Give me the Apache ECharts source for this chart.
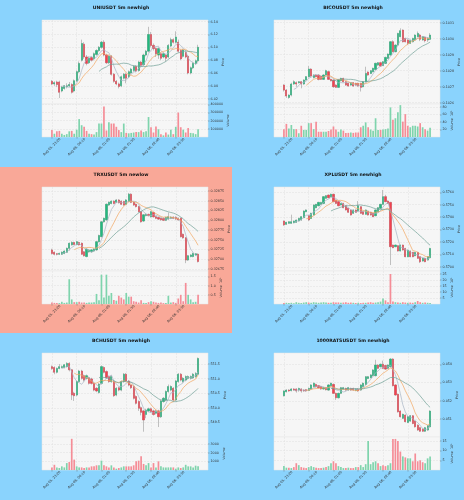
<!DOCTYPE html>
<html><head><meta charset="utf-8">
<script src="https://cdn.jsdelivr.net/npm/echarts@6/dist/echarts.min.js"></script>
<style>html,body{margin:0;padding:0;background:#8ad3fd;}#c{width:464px;height:500px;}</style>
</head><body><div id="c"></div>
<script>
// ---------- shared x tick labels (every 10 candles) ----------
const timeLabels = ['Aug 05, 23:20','Aug 06, 00:10','Aug 06, 01:00','Aug 06, 01:50','Aug 06, 02:40','Aug 06, 03:30'];

// ---------- UNIUSDT ----------
const uniTitle = 'UNIUSDT 5m newhigh';
const uniCandles = [[6.047,6.043,6.041,6.049],[6.043,6.045,6.040,6.047],[6.046,6.042,6.038,6.048],[6.046,6.030,6.021,6.048],[6.032,6.038,6.030,6.040],[6.036,6.040,6.034,6.041],[6.039,6.040,6.036,6.044],[6.040,6.042,6.038,6.046],[6.042,6.030,6.028,6.044],[6.032,6.048,6.030,6.050],
[6.048,6.062,6.046,6.064],[6.062,6.075,6.060,6.078],[6.080,6.106,6.078,6.112],[6.105,6.085,6.082,6.108],[6.085,6.075,6.072,6.088],[6.076,6.083,6.074,6.086],[6.084,6.080,6.078,6.086],[6.082,6.090,6.080,6.092],[6.089,6.095,6.087,6.097],[6.095,6.100,6.093,6.102],
[6.100,6.108,6.098,6.110],[6.108,6.088,6.086,6.111],[6.088,6.076,6.074,6.090],[6.076,6.086,6.074,6.088],[6.086,6.058,6.056,6.088],[6.058,6.047,6.045,6.060],[6.047,6.043,6.041,6.049],[6.043,6.039,6.036,6.045],[6.040,6.054,6.038,6.056],[6.052,6.058,6.050,6.060],
[6.058,6.052,6.044,6.060],[6.054,6.062,6.052,6.064],[6.060,6.066,6.058,6.068],[6.064,6.070,6.062,6.072],[6.070,6.063,6.061,6.072],[6.064,6.077,6.062,6.079],[6.077,6.072,6.070,6.079],[6.073,6.088,6.071,6.090],[6.088,6.094,6.086,6.096],[6.094,6.120,6.092,6.132],
[6.120,6.103,6.100,6.124],[6.103,6.098,6.095,6.106],[6.098,6.090,6.085,6.100],[6.088,6.098,6.082,6.100],[6.090,6.083,6.080,6.092],[6.085,6.090,6.083,6.092],[6.088,6.083,6.078,6.090],[6.085,6.103,6.083,6.105],[6.102,6.112,6.100,6.115],[6.112,6.108,6.106,6.114],
[6.108,6.116,6.106,6.125],[6.108,6.094,6.092,6.112],[6.095,6.082,6.080,6.097],[6.086,6.096,6.084,6.098],[6.092,6.085,6.083,6.094],[6.086,6.060,6.058,6.088],[6.060,6.068,6.058,6.070],[6.068,6.075,6.066,6.077],[6.075,6.079,6.073,6.081],[6.079,6.100,6.077,6.104]];
const uniVolume = [85000,40000,70000,75000,40000,25000,35000,70000,75000,40000,90000,220000,145000,125000,75000,40000,35000,30000,60000,165000,165000,375000,80000,180000,165000,165000,125000,85000,60000,165000,50000,45000,50000,55000,60000,60000,80000,60000,70000,245000,120000,55000,130000,95000,35000,20000,55000,30000,90000,35000,125000,300000,120000,90000,55000,110000,50000,45000,35000,95000];
const uniPriceTicks = [6.02,6.04,6.06,6.08,6.10,6.12,6.14];
const uniPriceLabels = ['6.02','6.04','6.06','6.08','6.10','6.12','6.14'];
const uniVolTicks = [100000,200000,300000,400000];
const uniVolLabels = ['100000','200000','300000','400000'];

// ---------- BICOUSDT ----------
const bicoTitle = 'BICOUSDT 5m newhigh';
const bicoCandles = [[0.102710,0.102679,0.102670,0.102715],[0.102679,0.102642,0.102630,0.102685],[0.102633,0.102648,0.102625,0.102652],[0.102648,0.102717,0.102640,0.102725],[0.102717,0.102731,0.102712,0.102740],[0.102725,0.102717,0.102700,0.102733],[0.102725,0.102731,0.102720,0.102735],[0.102731,0.102717,0.102690,0.102735],[0.102717,0.102742,0.102712,0.102746],[0.102742,0.102763,0.102738,0.102767],
[0.102763,0.102810,0.102758,0.102829],[0.102810,0.102767,0.102760,0.102815],[0.102758,0.102773,0.102752,0.102778],[0.102773,0.102763,0.102758,0.102778],[0.102773,0.102746,0.102740,0.102778],[0.102767,0.102746,0.102742,0.102771],[0.102746,0.102773,0.102742,0.102778],[0.102773,0.102800,0.102769,0.102806],[0.102794,0.102746,0.102742,0.102800],[0.102746,0.102738,0.102733,0.102750],
[0.102742,0.102700,0.102694,0.102746],[0.102710,0.102696,0.102692,0.102715],[0.102696,0.102742,0.102692,0.102746],[0.102738,0.102752,0.102733,0.102756],[0.102752,0.102731,0.102727,0.102756],[0.102731,0.102710,0.102706,0.102735],[0.102721,0.102704,0.102700,0.102725],[0.102710,0.102725,0.102706,0.102729],[0.102725,0.102704,0.102700,0.102729],[0.102721,0.102710,0.102706,0.102725],
[0.102721,0.102704,0.102700,0.102725],[0.102721,0.102696,0.102670,0.102725],[0.102700,0.102731,0.102696,0.102735],[0.102731,0.102783,0.102727,0.102825],[0.102792,0.102773,0.102769,0.102796],[0.102783,0.102800,0.102779,0.102804],[0.102794,0.102815,0.102790,0.102819],[0.102808,0.102846,0.102804,0.102850],[0.102835,0.102850,0.102831,0.102854],[0.102850,0.102829,0.102825,0.102856],
[0.102833,0.102856,0.102829,0.102860],[0.102846,0.102883,0.102842,0.102888],[0.102877,0.102904,0.102873,0.102908],[0.102898,0.102981,0.102894,0.102985],[0.102981,0.102919,0.102915,0.102990],[0.102919,0.102960,0.102915,0.102965],[0.102960,0.103033,0.102956,0.103037],[0.103013,0.103050,0.103009,0.103065],[0.103054,0.102981,0.102977,0.103058],[0.103002,0.102981,0.102977,0.103006],
[0.102992,0.102971,0.102960,0.102996],[0.102971,0.102988,0.102967,0.102992],[0.102981,0.103002,0.102977,0.103006],[0.102992,0.103023,0.102988,0.103027],[0.103013,0.103033,0.103009,0.103045],[0.103023,0.102996,0.102985,0.103030],[0.102992,0.103013,0.102988,0.103017],[0.103009,0.102988,0.102977,0.103013],[0.102992,0.103002,0.102980,0.103010],[0.102996,0.103023,0.102992,0.103035]];
const bicoVolume = [21,35,23,32,21,21,10,30,19,19,37,37,21,41,14,14,14,14,16,20,28,20,14,20,17,11,11,12,11,12,12,26,30,39,26,20,17,50,19,19,20,21,23,79,46,50,66,85,41,61,30,26,30,30,28,37,26,21,17,25];
const bicoPriceTicks = [0.1026,0.1027,0.1028,0.1029,0.1030,0.1031];
const bicoPriceLabels = ['0.1026','0.1027','0.1028','0.1029','0.1030','0.1031'];
const bicoVolTicks = [20,40,60,80];
const bicoVolLabels = ['20','40','60','80'];

// ---------- TRXUSDT ----------
const trxTitle = 'TRXUSDT 5m newlow';
const trxCandles = [[0.32724,0.32715,0.32712,0.32727],[0.32718,0.32713,0.32710,0.32720],[0.32714,0.32713,0.32710,0.32716],[0.32713,0.32715,0.32711,0.32717],[0.32713,0.32718,0.32711,0.32720],[0.32715,0.32721,0.32713,0.32723],[0.32718,0.32728,0.32716,0.32730],[0.32728,0.32741,0.32722,0.32743],[0.32737,0.32743,0.32735,0.32746],[0.32743,0.32738,0.32736,0.32745],
[0.32738,0.32745,0.32736,0.32747],[0.32743,0.32737,0.32735,0.32745],[0.32741,0.32713,0.32711,0.32743],[0.32719,0.32709,0.32707,0.32721],[0.32707,0.32726,0.32705,0.32728],[0.32719,0.32724,0.32717,0.32726],[0.32719,0.32724,0.32717,0.32726],[0.32721,0.32726,0.32719,0.32728],[0.32724,0.32745,0.32722,0.32747],[0.32745,0.32761,0.32743,0.32763],
[0.32758,0.32796,0.32756,0.32798],[0.32796,0.32805,0.32794,0.32807],[0.32801,0.32841,0.32799,0.32843],[0.32839,0.32846,0.32837,0.32848],[0.32843,0.32849,0.32841,0.32851],[0.32849,0.32843,0.32841,0.32851],[0.32846,0.32852,0.32844,0.32854],[0.32852,0.32845,0.32843,0.32854],[0.32849,0.32841,0.32839,0.32851],[0.32848,0.32839,0.32837,0.32850],
[0.32841,0.32852,0.32839,0.32854],[0.32848,0.32867,0.32846,0.32870],[0.32867,0.32846,0.32844,0.32869],[0.32846,0.32839,0.32837,0.32848],[0.32841,0.32835,0.32833,0.32843],[0.32835,0.32822,0.32820,0.32837],[0.32822,0.32796,0.32794,0.32824],[0.32798,0.32814,0.32796,0.32816],[0.32812,0.32815,0.32810,0.32817],[0.32815,0.32812,0.32810,0.32817],
[0.32809,0.32822,0.32807,0.32824],[0.32820,0.32809,0.32807,0.32822],[0.32809,0.32805,0.32803,0.32811],[0.32807,0.32803,0.32801,0.32809],[0.32805,0.32801,0.32799,0.32807],[0.32805,0.32800,0.32798,0.32807],[0.32800,0.32807,0.32798,0.32809],[0.32803,0.32809,0.32801,0.32820],[0.32805,0.32808,0.32803,0.32810],[0.32808,0.32805,0.32803,0.32810],
[0.32808,0.32803,0.32801,0.32810],[0.32805,0.32801,0.32799,0.32807],[0.32805,0.32758,0.32756,0.32807],[0.32764,0.32755,0.32753,0.32766],[0.32755,0.32698,0.32690,0.32757],[0.32698,0.32709,0.32696,0.32711],[0.32707,0.32711,0.32705,0.32713],[0.32707,0.32715,0.32705,0.32717],[0.32711,0.32714,0.32709,0.32716],[0.32713,0.32694,0.32692,0.32715]];
const trxVolume = [0.08,0.06,0.05,0.05,0.12,0.06,0.08,1.35,0.25,0.1,0.1,0.12,0.08,0.08,0.06,0.08,0.08,0.1,0.55,0.2,1.6,0.35,1.6,0.45,0.6,0.22,0.18,0.45,0.35,0.25,0.6,0.4,0.4,0.15,0.12,0.08,0.2,0.06,0.05,0.1,0.15,0.12,0.08,0.06,0.08,0.05,0.06,0.45,0.08,0.1,0.06,0.3,0.5,0.15,1.15,0.5,0.25,0.1,0.12,0.5];
const trxPriceTicks = [0.32675,0.32700,0.32725,0.32750,0.32775,0.32800,0.32825,0.32850,0.32875];
const trxPriceLabels = ['0.32675','0.32700','0.32725','0.32750','0.32775','0.32800','0.32825','0.32850','0.32875'];
const trxVolTicks = [0.5,1.0,1.5];
const trxVolLabels = ['0.5','1.0','1.5'];

// ---------- XPLUSDT ----------
const xplTitle = 'XPLUSDT 5m newhigh';
const xplCandles = [[0.57369,0.57337,0.57330,0.57372],[0.57342,0.57358,0.57338,0.57362],[0.57350,0.57363,0.57346,0.57366],[0.57350,0.57363,0.57346,0.57420],[0.57355,0.57369,0.57350,0.57372],[0.57358,0.57377,0.57354,0.57380],[0.57369,0.57390,0.57365,0.57395],[0.57377,0.57404,0.57370,0.57408],[0.57396,0.57449,0.57392,0.57455],[0.57444,0.57458,0.57440,0.57462],
[0.57412,0.57377,0.57370,0.57416],[0.57390,0.57431,0.57386,0.57435],[0.57417,0.57498,0.57413,0.57502],[0.57476,0.57503,0.57472,0.57507],[0.57492,0.57519,0.57488,0.57523],[0.57503,0.57519,0.57499,0.57523],[0.57511,0.57565,0.57507,0.57569],[0.57552,0.57573,0.57548,0.57578],[0.57578,0.57557,0.57553,0.57582],[0.57565,0.57584,0.57561,0.57590],
[0.57584,0.57525,0.57521,0.57588],[0.57538,0.57511,0.57507,0.57542],[0.57525,0.57492,0.57488,0.57529],[0.57498,0.57511,0.57494,0.57515],[0.57511,0.57476,0.57472,0.57515],[0.57492,0.57458,0.57454,0.57496],[0.57471,0.57439,0.57435,0.57475],[0.57458,0.57417,0.57413,0.57462],[0.57431,0.57458,0.57427,0.57462],[0.57458,0.57439,0.57435,0.57462],
[0.57449,0.57492,0.57445,0.57530],[0.57484,0.57431,0.57427,0.57488],[0.57444,0.57423,0.57419,0.57448],[0.57423,0.57458,0.57419,0.57462],[0.57449,0.57417,0.57413,0.57453],[0.57439,0.57417,0.57413,0.57443],[0.57431,0.57404,0.57400,0.57435],[0.57412,0.57458,0.57408,0.57462],[0.57444,0.57476,0.57440,0.57480],[0.57471,0.57503,0.57467,0.57507],
[0.57503,0.57565,0.57499,0.57619],[0.57565,0.57525,0.57521,0.57580],[0.57530,0.57511,0.57507,0.57534],[0.57519,0.57162,0.57014,0.57523],[0.57175,0.57154,0.57150,0.57179],[0.57162,0.57175,0.57158,0.57179],[0.57170,0.57127,0.57123,0.57174],[0.57127,0.57175,0.57123,0.57179],[0.57175,0.57135,0.57131,0.57179],[0.57148,0.57081,0.57077,0.57152],
[0.57081,0.57135,0.57077,0.57139],[0.57127,0.57081,0.57077,0.57131],[0.57116,0.57081,0.57077,0.57120],[0.57089,0.57116,0.57085,0.57120],[0.57116,0.57068,0.57064,0.57120],[0.57081,0.57041,0.57030,0.57085],[0.57046,0.57068,0.57042,0.57072],[0.57068,0.57041,0.57037,0.57072],[0.57054,0.57081,0.57050,0.57085],[0.57073,0.57148,0.57069,0.57152]];
const xplVolume = [0.8,1,0.8,1,0.6,1.5,1,0.8,1.2,1.5,1.2,1,1.5,1.2,1,1.3,1.5,1.2,1,1,1.5,1.2,1.3,1,1.2,1.5,1,1.2,1,0.8,1,0.8,1,1,1.2,1.5,1,1.2,1.5,2,4.5,3,1.5,25,2,1.5,1.2,1,1.5,1.2,1,1.2,1,1.5,2.5,1.5,1,1.2,1,0.8];
const xplPriceTicks = [0.570,0.571,0.572,0.573,0.574,0.575,0.576];
const xplPriceLabels = ['0.5700','0.5710','0.5720','0.5730','0.5740','0.5750','0.5760'];
const xplVolTicks = [5,10,15,20,25];
const xplVolLabels = ['5','10','15','20','25'];

// ---------- BCHUSDT ----------
const bchTitle = 'BCHUSDT 5m newhigh';
const bchCandles = [[551.41,551.35,551.30,551.45],[551.38,551.22,551.15,551.42],[551.22,551.35,551.18,551.38],[551.35,551.41,551.32,551.50],[551.38,551.41,551.35,551.45],[551.38,551.47,551.35,551.50],[551.41,551.52,551.38,551.56],[551.52,551.30,551.25,551.56],[551.30,550.44,550.27,551.33],[550.50,550.42,550.24,550.55],
[550.44,550.90,550.40,550.93],[550.90,551.26,550.86,551.30],[551.26,551.01,550.97,551.30],[551.10,550.95,550.90,551.14],[551.01,551.10,550.97,551.14],[551.03,550.84,550.80,551.07],[550.99,550.84,550.80,551.03],[550.84,550.61,550.57,550.88],[550.67,550.58,550.54,550.71],[550.53,550.81,550.49,550.85],
[550.84,551.41,550.80,551.45],[551.38,551.22,551.18,551.42],[551.24,551.03,550.99,551.28],[551.07,550.90,550.86,551.11],[550.90,551.07,550.86,551.11],[550.90,550.42,550.38,550.94],[550.44,550.67,550.40,550.71],[550.69,550.61,550.57,550.73],[550.61,550.90,550.57,550.94],[550.90,551.15,550.86,551.19],
[551.15,550.92,550.88,551.19],[550.92,550.78,550.74,550.95],[550.78,550.69,550.65,550.81],[550.73,550.33,550.29,550.77],[550.39,550.16,550.12,550.43],[550.22,549.99,549.90,550.26],[550.01,549.85,549.75,550.05],[549.90,549.59,549.19,549.94],[549.78,549.93,549.65,549.97],[549.90,549.97,549.86,550.01],
[549.97,549.88,549.84,550.01],[549.90,549.78,549.74,549.94],[549.82,549.90,549.78,549.94],[549.90,549.70,549.35,549.94],[549.70,550.24,549.66,550.28],[550.22,550.33,550.18,550.37],[550.27,550.56,550.23,550.60],[550.56,550.73,550.52,550.80],[550.61,550.73,550.57,550.77],[550.67,550.27,550.23,550.71],
[550.27,550.92,550.23,550.96],[550.90,551.15,550.86,551.19],[551.15,550.95,550.91,551.19],[550.90,551.01,550.86,551.05],[550.95,551.07,550.91,551.11],[551.01,551.07,550.97,551.11],[551.01,551.07,550.97,551.11],[551.03,551.15,550.99,551.19],[551.07,551.18,551.03,551.22],[551.15,551.69,551.11,551.72]];
const bchVolume = [300,600,300,230,420,300,800,920,3600,1200,420,300,300,230,300,300,420,420,540,540,1080,540,420,300,540,300,150,230,300,420,420,420,420,540,1000,1080,1580,700,540,800,300,800,300,1000,420,300,300,300,300,300,150,300,230,300,600,420,420,300,500,420];
const bchPriceTicks = [549.5,550.0,550.5,551.0,551.5];
const bchPriceLabels = ['549.5','550.0','550.5','551.0','551.5'];
const bchVolTicks = [1000,2000,3000];
const bchVolLabels = ['1000','2000','3000'];

// ---------- 1000RATSUSDT ----------
const ratsTitle = '1000RATSUSDT 5m newhigh';
const ratsCandles = [[0.05228,0.05254,0.05224,0.05258],[0.05250,0.05259,0.05246,0.05263],[0.05259,0.05254,0.05250,0.05263],[0.05256,0.05265,0.05252,0.05269],[0.05265,0.05259,0.05255,0.05269],[0.05265,0.05254,0.05245,0.05269],[0.05259,0.05268,0.05250,0.05272],[0.05265,0.05254,0.05245,0.05269],[0.05259,0.05254,0.05250,0.05263],[0.05261,0.05254,0.05250,0.05265],
[0.05257,0.05268,0.05253,0.05272],[0.05265,0.05287,0.05261,0.05291],[0.05278,0.05296,0.05274,0.05300],[0.05290,0.05278,0.05274,0.05294],[0.05283,0.05272,0.05268,0.05287],[0.05278,0.05265,0.05261,0.05282],[0.05265,0.05272,0.05261,0.05276],[0.05272,0.05261,0.05257,0.05276],[0.05259,0.05287,0.05255,0.05291],[0.05283,0.05296,0.05279,0.05300],
[0.05290,0.05241,0.05237,0.05294],[0.05241,0.05217,0.05205,0.05245],[0.05217,0.05241,0.05213,0.05245],[0.05241,0.05272,0.05237,0.05276],[0.05265,0.05272,0.05261,0.05276],[0.05268,0.05259,0.05255,0.05272],[0.05259,0.05272,0.05255,0.05276],[0.05268,0.05259,0.05255,0.05272],[0.05268,0.05259,0.05255,0.05272],[0.05257,0.05265,0.05253,0.05269],
[0.05265,0.05254,0.05250,0.05269],[0.05259,0.05287,0.05255,0.05291],[0.05278,0.05296,0.05274,0.05300],[0.05290,0.05332,0.05286,0.05336],[0.05323,0.05332,0.05319,0.05336],[0.05327,0.05342,0.05323,0.05346],[0.05338,0.05369,0.05334,0.05373],[0.05338,0.05396,0.05334,0.05425],[0.05396,0.05378,0.05374,0.05400],[0.05387,0.05400,0.05383,0.05404],
[0.05400,0.05378,0.05374,0.05420],[0.05393,0.05374,0.05370,0.05397],[0.05378,0.05396,0.05374,0.05400],[0.05387,0.05429,0.05383,0.05433],[0.05429,0.05283,0.05279,0.05433],[0.05287,0.05232,0.05228,0.05291],[0.05236,0.05140,0.05136,0.05240],[0.05144,0.05113,0.05109,0.05148],[0.05104,0.05126,0.05100,0.05130],[0.05122,0.05086,0.05082,0.05126],
[0.05082,0.05113,0.05078,0.05117],[0.05089,0.05118,0.05085,0.05122],[0.05118,0.05076,0.05072,0.05122],[0.05089,0.05058,0.05054,0.05093],[0.05067,0.05040,0.05036,0.05071],[0.05053,0.05034,0.05030,0.05057],[0.05045,0.05034,0.05030,0.05049],[0.05034,0.05053,0.05030,0.05057],[0.05040,0.05064,0.05036,0.05068],[0.05058,0.05144,0.05054,0.05148]];
const ratsVolume = [2,1.2,1.2,1,1.5,3.5,2.5,1.5,1.2,1,1.5,2,1.5,1.2,1,1,1.2,1.5,2,3.5,4.5,3.5,2,1.5,1,1,1.2,1,1,1.5,1.5,2.5,1.5,3,15,3,4,4.5,3.5,2,2.5,2,2.5,3.5,16,16,15,9.5,7,6.5,6,6,4.5,8.5,4.5,5,4,3.5,6,7];
const ratsPriceTicks = [0.051,0.052,0.053,0.054];
const ratsPriceLabels = ['0.051','0.052','0.053','0.054'];
const ratsVolTicks = [5,10,15];
const ratsVolLabels = ['5','10','15'];

// ---------- styles ----------
const UP = '#22b97e', DOWN = '#f2414f', WICK = '#9a9a9a';
const VUP = '#7fd4ad', VDOWN = '#f58d97';
const MA_COLORS = ['#a7b5c4', '#f2a660', '#6f9f95'];
const MA_PERIODS = [5, 10, 20];
const PLOT_BG = '#f6f6f6';
const GRID_LINE = '#e0e0e0';
const PAD = 4;

const PANELS = [
  {title: uniTitle, candles: uniCandles, vol: uniVolume, pT: uniPriceTicks, pL: uniPriceLabels, pMin: 6.0117, pMax: 6.1426, vT: uniVolTicks, vL: uniVolLabels, vMax: 405000, vName: 'Volume'},
  {title: bicoTitle, candles: bicoCandles, vol: bicoVolume, pT: bicoPriceTicks, pL: bicoPriceLabels, pMin: 0.102592, pMax: 0.103117, vT: bicoVolTicks, vL: bicoVolLabels, vMax: 88, vName: 'Volume  10\u00b3'},
  {title: trxTitle, candles: trxCandles, vol: trxVolume, pT: trxPriceTicks, pL: trxPriceLabels, pMin: 0.326699, pMax: 0.328853, vT: trxVolTicks, vL: trxVolLabels, vMax: 1.8, vName: 'Volume  10\u2076'},
  {title: xplTitle, candles: xplCandles, vol: xplVolume, pT: xplPriceTicks, pL: xplPriceLabels, pMin: 0.56966, pMax: 0.57643, vT: xplVolTicks, vL: xplVolLabels, vMax: 27.5, vName: 'Volume  10\u00b3'},
  {title: bchTitle, candles: bchCandles, vol: bchVolume, pT: bchPriceTicks, pL: bchPriceLabels, pMin: 549.01, pMax: 551.875, vT: bchVolTicks, vL: bchVolLabels, vMax: 3810, vName: 'Volume'},
  {title: ratsTitle, candles: ratsCandles, vol: ratsVolume, pT: ratsPriceTicks, pL: ratsPriceLabels, pMin: 0.05002, pMax: 0.05462, vT: ratsVolTicks, vL: ratsVolLabels, vMax: 17, vName: 'Volume  10\u2076'}
];

function pad(arr) { return Array(PAD).fill('-').concat(arr, Array(PAD).fill('-')); }
function movingAvg(closes, n) {
  return closes.map((_, i) => i < n - 1 ? '-' : closes.slice(i - n + 1, i + 1).reduce((a, b) => a + b, 0) / n);
}
function labelFor(ticks, labels) {
  return v => { const k = ticks.findIndex(t => Math.abs(t - v) < 1e-9 * Math.max(1, Math.abs(t))); return k < 0 ? '' : labels[k]; };
}

const grids = [], xAxes = [], yAxes = [], series = [], titles = [];
PANELS.forEach((p, k) => {
  const col = k % 2, row = Math.floor(k / 2);
  const ox = [0, 232][col], oy = [0, 167, 333][row];
  const n = p.candles.length;
  const cats = Array.from({length: n + 2 * PAD}, (_, i) => 'c' + i);
  const isTick = (idx) => idx >= PAD && idx < PAD + n && (idx - PAD) % 10 === 0;
  const gp = 2 * k, gv = 2 * k + 1;
  grids.push({left: ox + 42, top: oy + 20, width: 166, height: 84, show: true, backgroundColor: PLOT_BG, borderColor: '#e4e4e4', borderWidth: 0.5});
  grids.push({left: ox + 42, top: oy + 104, width: 166, height: 33, show: true, backgroundColor: PLOT_BG, borderColor: '#e4e4e4', borderWidth: 0.5});
  const splitX = {show: true, interval: isTick, lineStyle: {color: GRID_LINE, width: 0.5, type: 'dashed'}};
  xAxes.push({type: 'category', gridIndex: gp, data: cats, boundaryGap: false, axisLine: {show: false}, axisTick: {show: false}, axisLabel: {show: false}, splitLine: splitX});
  xAxes.push({type: 'category', gridIndex: gv, data: cats, boundaryGap: false, axisLine: {show: false},
    axisTick: {show: true, interval: isTick, length: 1.5, lineStyle: {color: '#555', width: 0.4}},
    axisLabel: {show: true, interval: isTick, rotate: 45, align: 'center', verticalAlign: 'middle', margin: 10, fontSize: 3.3, color: '#333', fontFamily: 'DejaVu Sans',
      formatter: (v, idx) => timeLabels[(idx - PAD) / 10] || ''},
    splitLine: splitX});
  const yBase = (ticks, labels, name, min, max, gi) => ({
    type: 'value', gridIndex: gi, position: 'right', min: min, max: max,
    axisLine: {show: false},
    axisTick: {show: true, customValues: ticks, length: 1.5, lineStyle: {color: '#555', width: 0.4}},
    axisLabel: {customValues: ticks, formatter: labelFor(ticks, labels), fontSize: 3.3, margin: 2.5, color: '#333', fontFamily: 'DejaVu Sans'},
    splitLine: {show: true, lineStyle: {color: GRID_LINE, width: 0.5, type: 'dashed'}},
    name: name, nameLocation: 'middle', nameGap: 11, nameRotate: 90, nameTextStyle: {fontSize: 3.3, color: '#333', fontFamily: 'DejaVu Sans'}
  });
  yAxes.push(yBase(p.pT, p.pL, 'Price', p.pMin, p.pMax, gp));
  yAxes.push(yBase(p.vT, p.vL, p.vName, 0, p.vMax, gv));

  // wicks (full range, grey)
  series.push({type: 'candlestick', xAxisIndex: gp, yAxisIndex: gp, barWidth: 1.7, silent: true,
    data: pad(p.candles.map(c => [c[0], c[1], c[2], c[3]])).map(d => d === '-' ? ['-','-','-','-'] : d),
    itemStyle: {color: WICK, color0: WICK, borderColor: WICK, borderColor0: WICK, borderWidth: 0.6}});
  // bodies
  series.push({type: 'candlestick', xAxisIndex: gp, yAxisIndex: gp, barWidth: 1.7, silent: true,
    data: pad(p.candles.map(c => [c[0], c[1], Math.min(c[0], c[1]), Math.max(c[0], c[1])])).map(d => d === '-' ? ['-','-','-','-'] : d),
    itemStyle: {color: UP, color0: DOWN, borderColor: UP, borderColor0: DOWN, borderWidth: 0.3}});
  // moving averages
  const closes = p.candles.map(c => c[1]);
  MA_PERIODS.forEach((m, j) => {
    series.push({type: 'line', xAxisIndex: gp, yAxisIndex: gp, data: pad(movingAvg(closes, m)), showSymbol: false, silent: true,
      lineStyle: {color: MA_COLORS[j], width: 0.7}, z: 3});
  });
  // volume
  series.push({type: 'bar', xAxisIndex: gv, yAxisIndex: gv, barWidth: 1.7, silent: true,
    data: pad(p.vol.map((v, i) => ({value: v, itemStyle: {color: p.candles[i][1] >= p.candles[i][0] ? VUP : VDOWN}})))});
  titles.push({text: p.title, left: ox + 116, top: oy + 0.5, textAlign: 'center',
    textStyle: {fontSize: 4.6, fontWeight: 'bold', color: '#111', fontFamily: 'DejaVu Sans'}});
});

const chart = echarts.init(document.getElementById('c'), null, {renderer: 'canvas'});
chart.setOption({
  animation: false,
  backgroundColor: '#8ad3fd',
  title: titles,
  graphic: [{type: 'rect', shape: {x: 0, y: 167, width: 232, height: 166}, style: {fill: '#f9a898'}, z: -10, silent: true}],
  grid: grids, xAxis: xAxes, yAxis: yAxes, series: series
});
</script></body></html>
